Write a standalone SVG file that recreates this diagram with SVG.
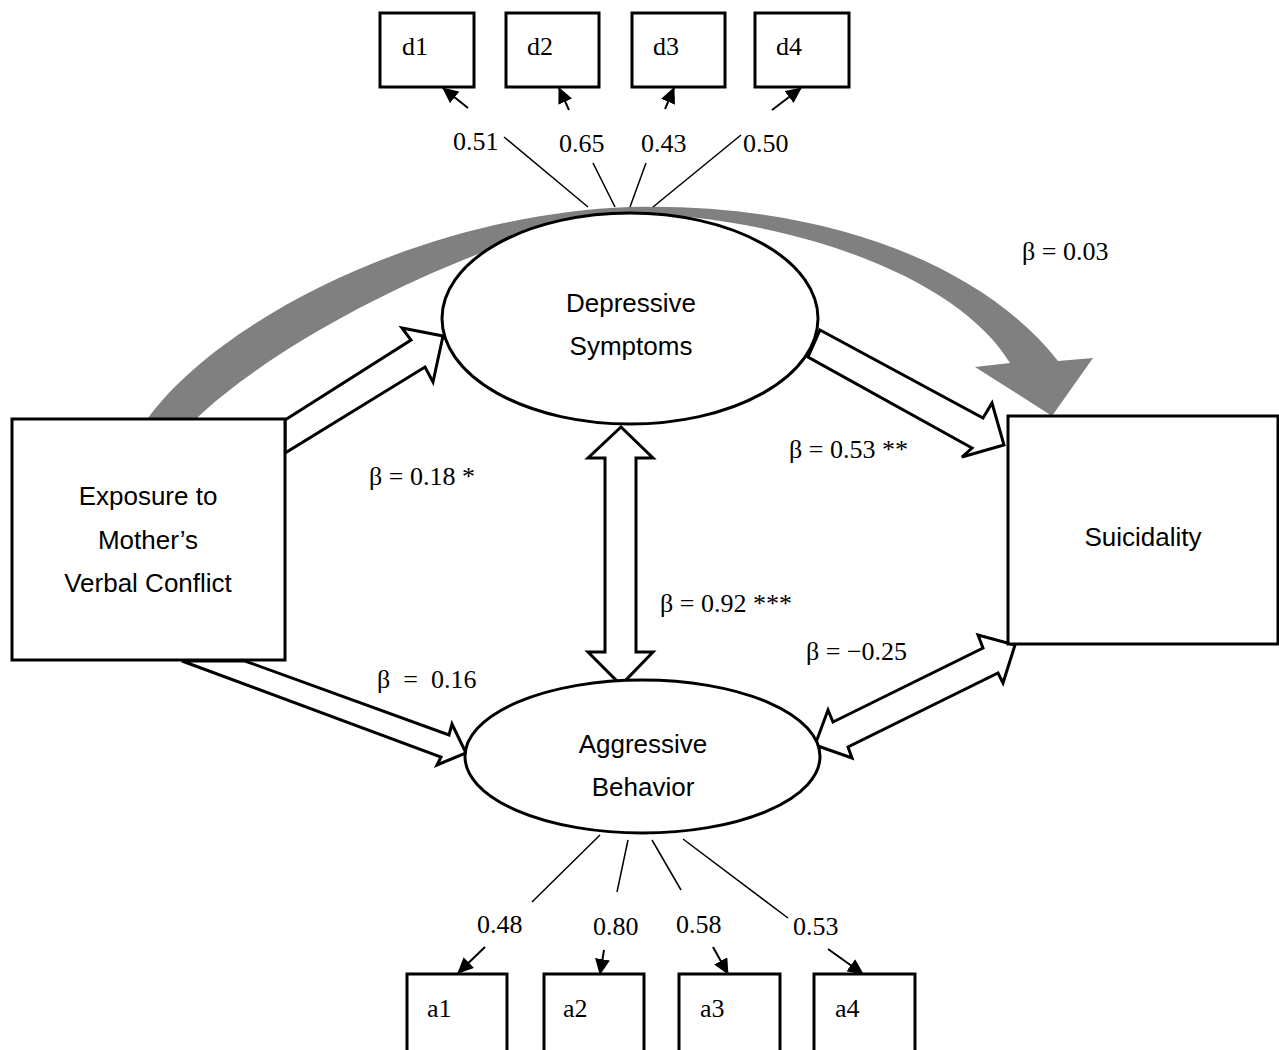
<svg xmlns="http://www.w3.org/2000/svg" width="1279" height="1050" viewBox="0 0 1279 1050">
<style>
.box{fill:#fff;stroke:#000;stroke-width:3}
.ell{fill:#fff;stroke:#000;stroke-width:3}
.hollow{fill:#fff;stroke:#000;stroke-width:3;stroke-linejoin:miter}
.thin{stroke:#000;stroke-width:1.5;fill:none}
.ld{stroke:#000;stroke-width:2;fill:none}
.sans{font-family:"Liberation Sans",Arial,sans-serif;font-size:26px;fill:#000}
.serif{font-family:"Liberation Serif","Times New Roman",serif;font-size:26px;fill:#000}
</style>
<defs>
<marker id="ah" viewBox="0 0 16 15" refX="15" refY="7.5" markerWidth="16" markerHeight="15" markerUnits="userSpaceOnUse" orient="auto">
<path d="M0,0 L16,7.5 L0,15 z" fill="#000"/>
</marker>
</defs>
<rect width="1279" height="1050" fill="#fff"/>

<g id="connectors">
  <!-- gray curved arrow Exposure -> Suicidality -->
  <path d="M148,418 C220,320 420,215 630,207 C820,202 980,262 1058,361 L1093,358 L1052,416 L975,367 L1010,363 C960,280 800,216 615,212 C480,240 290,330 197,418 Z" fill="#808080"/>
  <!-- Exposure -> Depressive -->
  <polygon class="hollow" points="285,420 411,340 402,328 443,336 433,382 425,367 285,453"/>
  <!-- Depressive -> Suicidality -->
  <polygon class="hollow" points="820,330 983,418 992,403 1004,445 962,457 972,448 808,357"/>
  <!-- Exposure -> Aggressive -->
  <polygon class="hollow" points="245,661 449,735 452,724 466,753 437,765 441,757 182,661"/>
  <!-- Depressive <-> Aggressive -->
  <polygon class="hollow" points="621,427 653,458 636,458 636,652 653,652 621,685 588,652 605,652 605,458 588,458"/>
  <!-- Aggressive <-> Suicidality -->
  <polygon class="hollow" points="833,722 983,648 978,635 1015,645 1003,683 998,673 848,747 852,758 815,745 828,710"/>
  <!-- loading lines depressive -->
  <line class="thin" x1="504" y1="137" x2="588" y2="207"/>
  <line class="thin" x1="593" y1="163" x2="615" y2="207"/>
  <line class="thin" x1="646" y1="163" x2="630" y2="207"/>
  <line class="thin" x1="741" y1="135" x2="653" y2="207"/>
  <line class="ld" x1="468" y1="108" x2="443" y2="88" marker-end="url(#ah)"/>
  <line class="ld" x1="569" y1="110" x2="559" y2="88" marker-end="url(#ah)"/>
  <line class="ld" x1="665" y1="109" x2="674" y2="88" marker-end="url(#ah)"/>
  <line class="ld" x1="772" y1="110" x2="801" y2="88" marker-end="url(#ah)"/>
  <!-- loading lines aggressive -->
  <line class="thin" x1="600" y1="835" x2="532" y2="902"/>
  <line class="thin" x1="628" y1="840" x2="617" y2="892"/>
  <line class="thin" x1="652" y1="840" x2="681" y2="890"/>
  <line class="thin" x1="683" y1="839" x2="788" y2="918"/>
  <line class="ld" x1="485" y1="947" x2="458" y2="973" marker-end="url(#ah)"/>
  <line class="ld" x1="604" y1="950" x2="600" y2="974" marker-end="url(#ah)"/>
  <line class="ld" x1="713" y1="947" x2="728" y2="974" marker-end="url(#ah)"/>
  <line class="ld" x1="828" y1="949" x2="863" y2="974" marker-end="url(#ah)"/>
  <!-- labels -->
  <text class="serif" x="453" y="150">0.51</text>
  <text class="serif" x="559" y="152">0.65</text>
  <text class="serif" x="641" y="152">0.43</text>
  <text class="serif" x="743" y="152">0.50</text>
  <text class="serif" x="477" y="933">0.48</text>
  <text class="serif" x="593" y="935">0.80</text>
  <text class="serif" x="676" y="933">0.58</text>
  <text class="serif" x="793" y="935">0.53</text>
  <text class="serif" x="1022" y="260">β = 0.03</text>
  <text class="serif" x="369" y="485">β = 0.18 *</text>
  <text class="serif" x="789" y="458">β = 0.53 **</text>
  <text class="serif" x="660" y="612">β = 0.92 ***</text>
  <text class="serif" x="806" y="660">β = −0.25</text>
  <text class="serif" x="377" y="688" xml:space="preserve">β  =  0.16</text>
</g>

<g id="d1"><rect class="box" x="380" y="13" width="94" height="74"/><text class="serif" x="402" y="55">d1</text></g>
<g id="d2"><rect class="box" x="506" y="13" width="93" height="74"/><text class="serif" x="527" y="55">d2</text></g>
<g id="d3"><rect class="box" x="632" y="13" width="93" height="74"/><text class="serif" x="653" y="55">d3</text></g>
<g id="d4"><rect class="box" x="755" y="13" width="94" height="74"/><text class="serif" x="776" y="55">d4</text></g>

<g id="exposure">
  <rect class="box" x="12" y="419" width="273" height="241"/>
  <text class="sans" x="148" y="505" text-anchor="middle">Exposure to</text>
  <text class="sans" x="148" y="549" text-anchor="middle">Mother’s</text>
  <text class="sans" x="148" y="592" text-anchor="middle">Verbal Conflict</text>
</g>

<g id="depressive">
  <ellipse class="ell" cx="630" cy="318.5" rx="188" ry="105.5"/>
  <text class="sans" x="631" y="312" text-anchor="middle">Depressive</text>
  <text class="sans" x="631" y="355" text-anchor="middle">Symptoms</text>
</g>

<g id="aggressive">
  <ellipse class="ell" cx="642.5" cy="756.5" rx="177.5" ry="76.5"/>
  <text class="sans" x="643" y="753" text-anchor="middle">Aggressive</text>
  <text class="sans" x="643" y="796" text-anchor="middle">Behavior</text>
</g>

<g id="suicidality">
  <rect class="box" x="1008" y="416" width="270" height="228"/>
  <text class="sans" x="1143" y="546" text-anchor="middle">Suicidality</text>
</g>

<g id="a1"><rect class="box" x="407" y="974" width="100" height="100"/><text class="serif" x="427" y="1017">a1</text></g>
<g id="a2"><rect class="box" x="544" y="974" width="100" height="100"/><text class="serif" x="563" y="1017">a2</text></g>
<g id="a3"><rect class="box" x="679" y="974" width="101" height="100"/><text class="serif" x="700" y="1017">a3</text></g>
<g id="a4"><rect class="box" x="814" y="974" width="101" height="100"/><text class="serif" x="835" y="1017">a4</text></g>
</svg>
